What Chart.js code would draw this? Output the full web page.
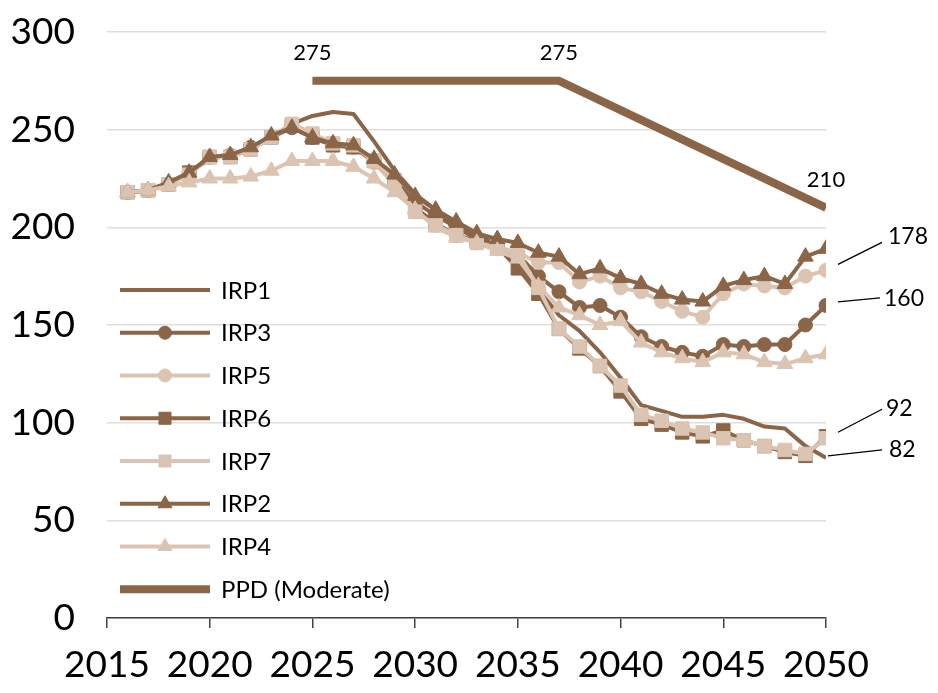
<!DOCTYPE html>
<html><head><meta charset="utf-8">
<script src="https://cdn.jsdelivr.net/npm/chart.js@4.4.1/dist/chart.umd.min.js"></script>
<style>html,body{margin:0;padding:0;background:#fff}#wrap{width:938px;height:693px}</style>
</head><body><div id="wrap"><canvas id="c" width="938" height="693"></canvas></div>
<script>
// ---- data ----
const years = [2016,2017,2018,2019,2020,2021,2022,2023,2024,2025,2026,2027,2028,2029,2030,2031,2032,2033,2034,2035,2036,2037,2038,2039,2040,2041,2042,2043,2044,2045,2046,2047,2048,2049,2050];
const irp1 = [218,219,222,228,235,237,241,246,253,257,259,258,244,229,217,209,201,196,191,183,168,155,147,136,123,109,106,103,103,104,102,98,97,88,82];
const irp3 = [218,219,222,228,236,237,241,246,251,246,242,241,234,224,213,206,200,194,190,186,175,167,159,160,154,144,139,136,134,140,139,140,140,150,160];
const irp5 = [218,219,222,227,236,237,240,246,252,247,243,241,233,222,208,201,196,192,189,187,182,182,172,175,169,167,162,157,154,166,171,170,169,175,178];
const irp6 = [218,219,222,228,236,236,240,246,252,246,242,241,234,224,210,202,196,193,190,179,166,148,138,129,116,102,99,95,93,96,91,88,85,83,93];
const irp7 = [218,219,222,227,236,236,240,246,253,248,243,242,234,224,208,201,196,192,190,187,169,148,139,129,119,104,101,97,95,92,91,88,86,84,92];
const irp2 = [218,219,223,228,236,237,241,247,251,246,243,242,235,227,216,209,203,197,194,192,187,185,176,179,174,171,166,163,162,170,173,175,171,185,189];
const irp4 = [218,219,221,223,225,225,226,229,234,234,234,231,225,218,209,200,195,192,188,184,170,159,155,150,152,141,136,133,131,136,135,131,130,133,135];
const ppdYears = [2025,2037,2050];
const ppdValues = [275,275,210];
const xTickValues = [2015,2020,2025,2030,2035,2040,2045,2050];
const xTickLabels = ['2015','2020','2025','2030','2035','2040','2045','2050'];
const yTickValues = [0,50,100,150,200,250,300];
const yTickLabels = ['0','50','100','150','200','250','300'];
const seriesNames = ['IRP1','IRP3','IRP5','IRP6','IRP7','IRP2','IRP4','PPD (Moderate)'];

// ---- styles ----
const DARK = '#8B6547', LIGHT = '#DBC4B1';
const pts = arr => years.map((y,i)=>({x:y,y:arr[i]}));
function ser(label, arr, color, style, r, lr){
  return {label, data: pts(arr), borderColor: color, backgroundColor: color, borderWidth: 4,
    pointStyle: style || 'circle', pointRadius: style ? r : 0, legendRadius: lr,
    pointBackgroundColor: color, pointBorderColor: color, pointBorderWidth: 1,
    borderJoinStyle:'round', tension: 0, hasMarker: !!style};
}
const datasets = [
  ser(seriesNames[0], irp1, DARK, null, 0, 0),
  ser(seriesNames[1], irp3, DARK, 'circle', 7, 6.5),
  ser(seriesNames[2], irp5, LIGHT, 'circle', 7, 6.5),
  ser(seriesNames[3], irp6, DARK, 'rect', 9.5, 8.5),
  ser(seriesNames[4], irp7, LIGHT, 'rect', 9.5, 8.5),
  ser(seriesNames[5], irp2, DARK, 'triangle', 9, 8),
  ser(seriesNames[6], irp4, LIGHT, 'triangle', 9, 8),
  {label: seriesNames[7], data: ppdYears.map((y,i)=>({x:y,y:ppdValues[i]})), borderColor: DARK, backgroundColor: DARK,
   borderWidth: 8, pointRadius: 0, tension: 0, hasMarker:false}
];
datasets.forEach((d,i)=>{ d.order = datasets.length - i; });

const FONT = 'Lato, "Liberation Sans", sans-serif';

const legendPlugin = {id:'inlegend', afterDatasetsDraw(chart){
  const ctx = chart.ctx, x0 = 120, x1 = 210, tx = 221, y0 = 290, dy = 42.75;
  chart.data.datasets.forEach((ds,i)=>{
    const y = y0 + i*dy;
    ctx.save();
    ctx.strokeStyle = ds.borderColor; ctx.lineWidth = ds.borderWidth;
    ctx.beginPath(); ctx.moveTo(x0,y); ctx.lineTo(x1,y); ctx.stroke();
    if (ds.hasMarker){
      ctx.fillStyle = ds.pointBackgroundColor; ctx.strokeStyle = ds.pointBorderColor; ctx.lineWidth = 1;
      Chart.helpers.drawPoint(ctx, {pointStyle: ds.pointStyle, radius: ds.legendRadius, rotation: 0, borderWidth: 1}, (x0+x1)/2, y);
    }
    ctx.fillStyle = '#000'; ctx.font = '24px ' + FONT; ctx.textAlign='left'; ctx.textBaseline='middle';
    ctx.fillText(ds.label, tx, y+1);
    ctx.restore();
  });
}};

const leaders = [
  {ds:2, a:[12,-6], b:[56,-28], t:[62,-34]},
  {ds:1, a:[12,-3.5], b:[54,-7.5], t:[58,-7]},
  {ds:4, a:[12,-6], b:[56,-29], t:[60,-30]},
  {ds:0, a:[2,-2], b:[56,-8], t:[63,-8]}
];
const labelPlugin = {id:'vlabels', afterDatasetsDraw(chart){
  const ctx = chart.ctx, xs = chart.scales.x, ys = chart.scales.y;
  ctx.save();
  ctx.fillStyle = '#000'; ctx.font = '22px ' + FONT; ctx.textAlign = 'center'; ctx.textBaseline = 'middle';
  ppdYears.forEach((yr,i)=>{
    ctx.fillText(String(ppdValues[i]), xs.getPixelForValue(yr), ys.getPixelForValue(ppdValues[i]) - 28);
  });
  ctx.textAlign = 'left'; ctx.font = '23px ' + FONT; ctx.strokeStyle = '#000'; ctx.lineWidth = 1.3;
  leaders.forEach(l=>{
    const d = chart.data.datasets[l.ds].data; const p = d[d.length-1];
    const px = xs.getPixelForValue(p.x), py = ys.getPixelForValue(p.y);
    ctx.beginPath(); ctx.moveTo(px+l.a[0], py+l.a[1]); ctx.lineTo(px+l.b[0], py+l.b[1]); ctx.stroke();
    ctx.fillText(String(p.y), px+l.t[0], py+l.t[1]);
  });
  ctx.restore();
}};

new Chart(document.getElementById('c'), {
  type: 'line',
  data: {datasets},
  options: {
    responsive: false, animation: false, devicePixelRatio: 1,
    layout: {padding: {top: 32, right: 112, left: 0, bottom: 0}},
    plugins: {legend: {display: false}, tooltip: {enabled: false}},
    scales: {
      x: {type: 'linear', min: 2015, max: 2050,
        ticks: {stepSize: 5, autoSkip: false, maxRotation: 0, color: '#000', padding: 15,
          font: {family: FONT, size: 37},
          callback: v => { const k = xTickValues.indexOf(v); return k >= 0 ? xTickLabels[k] : ''; }},
        grid: {display: true, drawOnChartArea: false, drawTicks: true, tickLength: 10, color: '#404040', lineWidth: 1.5},
        border: {display: true, color: '#404040', width: 1.5},
        afterFit(s){ s.height = 75; s.paddingLeft = 0; s.paddingRight = 0; }
      },
      y: {min: 0, max: 300,
        ticks: {stepSize: 50, color: '#000', padding: 32, font: {family: FONT, size: 37},
          callback: v => { const k = yTickValues.indexOf(v); return k >= 0 ? yTickLabels[k] : ''; }},
        grid: {color: '#dedede', lineWidth: 1.5, drawTicks: false},
        border: {display: false},
        afterFit(s){ s.width = 107; s.paddingTop = 0; s.paddingBottom = 0; }
      }
    }
  },
  plugins: [labelPlugin, legendPlugin]
});
</script>
</body></html>
